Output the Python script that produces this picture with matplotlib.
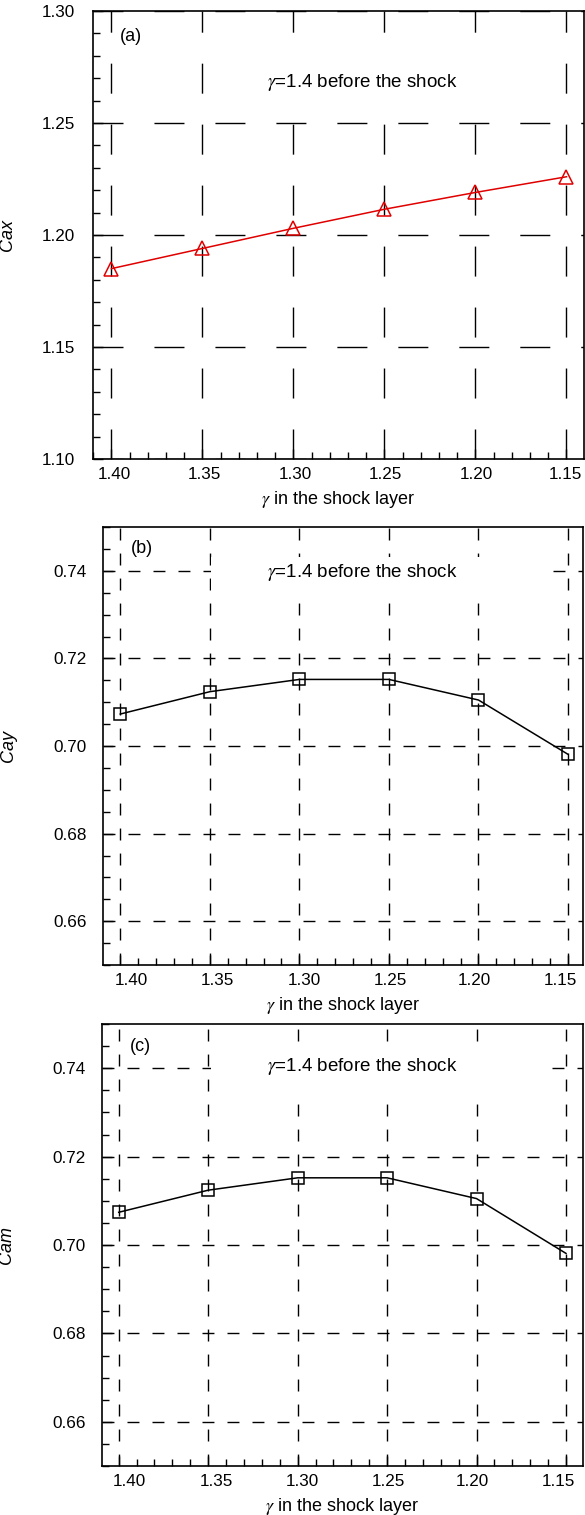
import matplotlib
matplotlib.use("Agg")
import matplotlib.pyplot as plt
from matplotlib.patches import Rectangle
from matplotlib.transforms import ScaledTranslation
from matplotlib.ticker import MultipleLocator, FixedLocator

plt.rcParams['font.family'] = ['Liberation Sans', 'DejaVu Sans']
plt.rcParams['mathtext.fontset'] = 'stix'
plt.rcParams['lines.scale_dashes'] = False

# ---- data ----
gamma_layer = [1.40, 1.35, 1.30, 1.25, 1.20, 1.15]
cax = [1.185, 1.194, 1.203, 1.2115, 1.219, 1.226]
cay = [0.7073, 0.7124, 0.7152, 0.7152, 0.7105, 0.6981]
cam = [0.7074, 0.7124, 0.7152, 0.7152, 0.7105, 0.6981]
xtick_labels = ['1.40', '1.35', '1.30', '1.25', '1.20', '1.15']
yticks_a = [1.10, 1.15, 1.20, 1.25, 1.30]
yticks_bc = [0.66, 0.68, 0.70, 0.72, 0.74]
ylabels = ['Cax', 'Cay', 'Cam']
panel_tags = ['(a)', '(b)', '(c)']
note = r'$\gamma$=1.4 before the shock'
xlabel = r'$\gamma$ in the shock layer'

W, H = 585, 1515
fig = plt.figure(figsize=(W / 100, H / 100), dpi=100)

def fr(left, top, right, bottom):
    return [left / W, 1 - bottom / H, (right - left) / W, (bottom - top) / H]

# layout (pixels)
specs = [
    dict(rect=fr(93, 11, 584, 459), xlim=(1.41016, 1.14038), ylim=(1.10, 1.30),
         yticks=yticks_a, yminor=0.01, y=cax, color='#e00000',
         marker='^', ms=10, dash=(21.6, 22.3), box=(0.2485, 0.8013, 0.6924, 0.0893),
         note_xy=(0.548, 0.8415), tag_xy=(0.0774, 0.942), ylab_x=-0.157,
         ypad=13, xoffs=[3, 2, 2, 1, 1, -1]),
    dict(rect=fr(103, 527, 583, 965), xlim=(1.40966, 1.14162), ylim=(0.65, 0.75),
         yticks=yticks_bc, yminor=0.005, y=cay, color='black',
         marker='s', ms=9, dash=(8.6, 9.4), box=(0.225, 0.8493, 0.7104, 0.0822),
         note_xy=(0.5396, 0.895), tag_xy=(0.0806, 0.952), ylab_x=-0.18,
         ypad=11.5, xoffs=[11, 8, 4.5, 1, -4.5, -8]),
    dict(rect=fr(102, 1024, 583, 1466), xlim=(1.40933, 1.1405), ylim=(0.65, 0.75),
         yticks=yticks_bc, yminor=0.005, y=cam, color='black',
         marker='s', ms=9, dash=(8.6, 9.4), box=(0.2266, 0.8439, 0.709, 0.095),
         note_xy=(0.5405, 0.9038), tag_xy=(0.079, 0.950), ylab_x=-0.18,
         ypad=11.5, xoffs=[11, 8, 4.5, 1, -4.5, -8]),
]

for i, s in enumerate(specs):
    ax = fig.add_axes(s['rect'])
    ax.set_xlim(*s['xlim'])
    ax.set_ylim(*s['ylim'])
    ax.set_axisbelow(True)

    ax.xaxis.set_major_locator(FixedLocator(gamma_layer))
    ax.set_xticklabels(xtick_labels)
    ax.xaxis.set_minor_locator(MultipleLocator(0.01))
    ax.set_yticks(s['yticks'])
    ax.set_yticklabels(['{:.2f}'.format(v) for v in s['yticks']])
    ax.yaxis.set_minor_locator(MultipleLocator(s['yminor']))

    ax.tick_params(axis='both', which='both', direction='in', top=False, right=False,
                   labelsize=12.3, colors='black')
    ax.tick_params(axis='both', which='major', length=7, width=1.0)
    ax.tick_params(axis='both', which='minor', length=5, width=1.0)
    ax.tick_params(axis='y', which='major', pad=s['ypad'])
    ax.tick_params(axis='x', which='major', pad=5.5)

    for sp in ax.spines.values():
        sp.set_linewidth(1.2)
        sp.set_color('black')

    ax.grid(True, which='major', color='black', linewidth=1.0,
            linestyle=(0, s['dash']))

    # white box behind annotation
    bx, by, bw, bh = s['box']
    ax.add_patch(Rectangle((bx, by), bw, bh, transform=ax.transAxes,
                           facecolor='white', edgecolor='none', zorder=1.5))
    ax.text(s['note_xy'][0], s['note_xy'][1], note, transform=ax.transAxes,
            ha='center', va='center', fontsize=13.5, zorder=4)
    ax.text(s['tag_xy'][0], s['tag_xy'][1], panel_tags[i], transform=ax.transAxes,
            ha='center', va='center', fontsize=13, zorder=4)

    ax.plot(gamma_layer, s['y'], color=s['color'], linewidth=1.1,
            marker=s['marker'], markersize=s['ms'], markerfacecolor='none',
            markeredgecolor=s['color'], markeredgewidth=1.1, zorder=3,
            clip_on=False)

    ax.set_xlabel(xlabel, fontsize=13, labelpad=5)
    ax.set_ylabel(ylabels[i], fontsize=13, fontstyle='italic')
    ax.yaxis.set_label_coords(s['ylab_x'], 0.5)

    for tick, dx in zip(ax.xaxis.get_major_ticks(), s['xoffs']):
        lab = tick.label1
        lab.set_transform(lab.get_transform() +
                          ScaledTranslation(dx / 100, 0, fig.dpi_scale_trans))

fig.savefig('out.png', dpi=100)
